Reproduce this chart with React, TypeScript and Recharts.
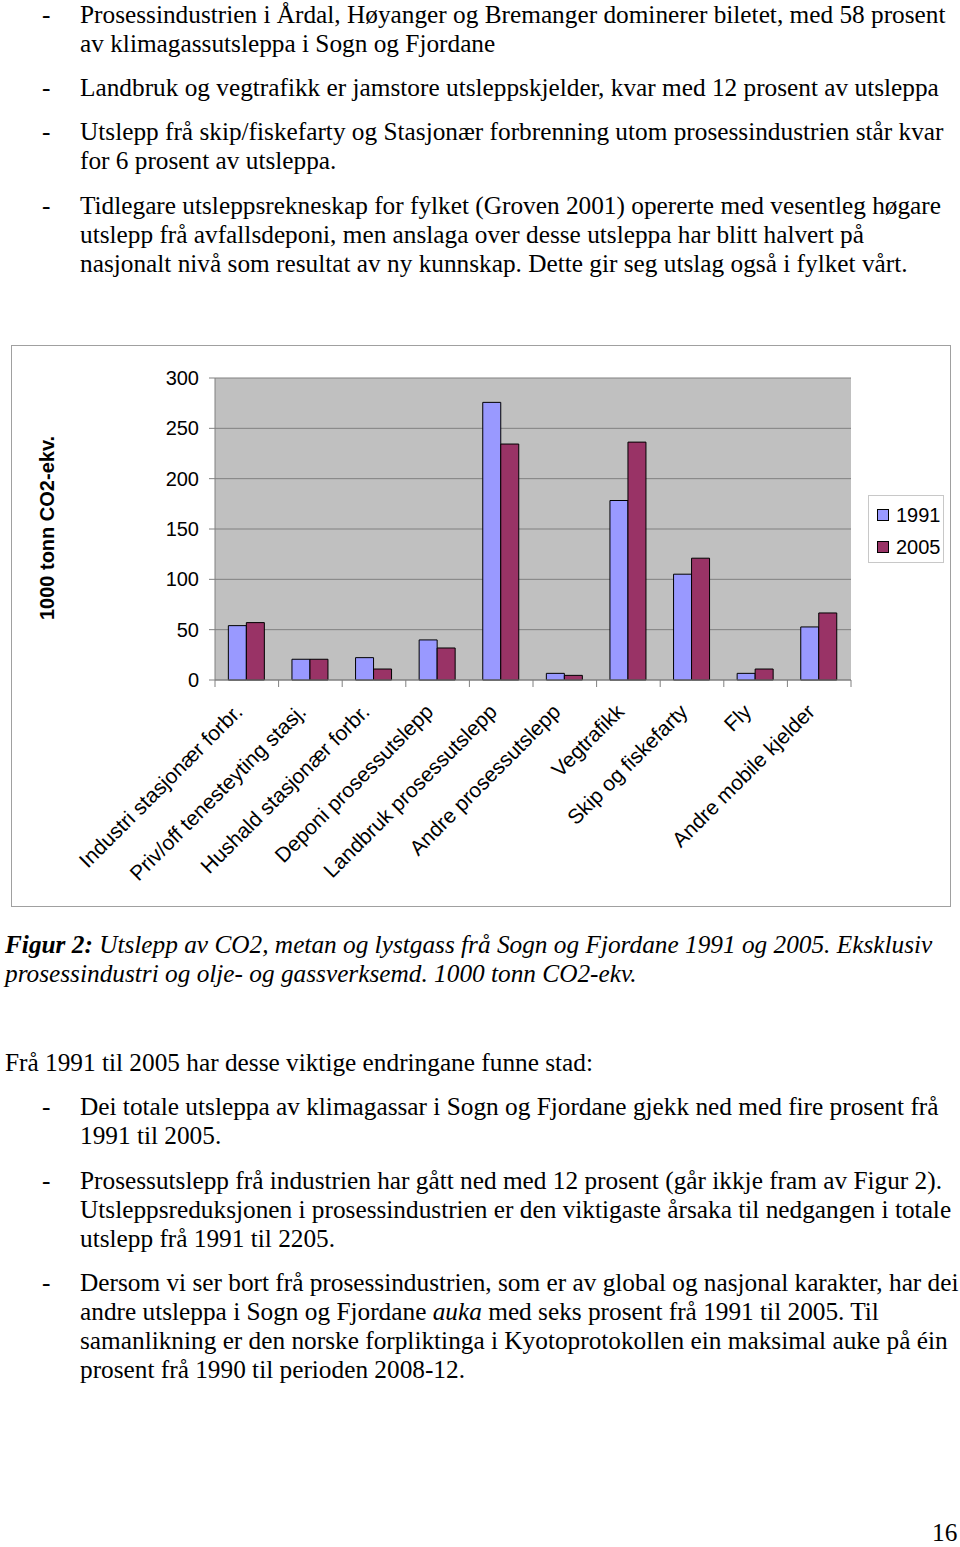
import React from 'react';
import { Bar, BarChart, CartesianGrid, Label, Legend, XAxis, YAxis } from 'recharts';

const categories = [
  'Industri stasjonær forbr.',
  'Priv/off tenesteyting stasj.',
  'Hushald stasjonær forbr.',
  'Deponi prosessutslepp',
  'Landbruk prosessutslepp',
  'Andre prosessutslepp',
  'Vegtrafikk',
  'Skip og fiskefarty',
  'Fly',
  'Andre mobile kjelder',
];

const values1991 = [54, 20.6, 22.2, 39.8, 275.8, 6.6, 178.3, 105.1, 6.6, 52.7];
const values2005 = [57, 20.6, 10.9, 31.8, 234.4, 4.6, 236.3, 121, 10.9, 66.6];

const yTicks = [0, 50, 100, 150, 200, 250, 300];

const data = categories.map((name, i) => ({
  name,
  y1991: values1991[i],
  y2005: values2005[i],
}));

const serif = '"Liberation Serif", "Times New Roman", serif';
const sans = '"Liberation Sans", Arial, sans-serif';

const PLOT_W = 636;
const BAND = PLOT_W / categories.length;

function CategoryTick(props: any) {
  const { x, y, payload, index } = props;
  const tx = x - 3;
  const ty = y + 33;
  return (
    <g>
      {index === 0 && <line x1={x - BAND / 2} y1={y} x2={x - BAND / 2} y2={y + 7} stroke='#808080' />}
      <line x1={x + BAND / 2} y1={y} x2={x + BAND / 2} y2={y + 7} stroke='#808080' />
      <text
        x={tx}
        y={ty}
        transform={`rotate(-45, ${tx}, ${ty})`}
        textAnchor='end'
        fontSize={21}
        fontFamily={sans}
        fill='#000'
      >
        {payload.value}
      </text>
    </g>
  );
}

function LegendBox(props: any) {
  const items = props.payload || [];
  return (
    <div
      style={{
        width: 76,
        height: 68,
        boxSizing: 'border-box',
        border: '1px solid #c8c8c8',
        background: '#fff',
        paddingTop: 3,
      }}
    >
      {items.map((entry: any) => (
        <div key={entry.value} style={{ display: 'flex', alignItems: 'center', height: 32, paddingLeft: 8 }}>
          <span
            style={{
              display: 'inline-block',
              width: 10,
              height: 10,
              background: entry.color,
              border: '1px solid #000',
              marginRight: 7,
            }}
          />
          <span style={{ fontFamily: sans, fontSize: 20, color: '#000' }}>{entry.value}</span>
        </div>
      ))}
    </div>
  );
}

function Line({ top, left = 80, children }: { top: number; left?: number; children: React.ReactNode }) {
  return (
    <div
      style={{
        position: 'absolute',
        top,
        left,
        whiteSpace: 'nowrap',
        fontFamily: serif,
        fontSize: 25.3,
        lineHeight: '29px',
        color: '#000',
      }}
    >
      {children}
    </div>
  );
}

function Dash({ top }: { top: number }) {
  return <Line top={top} left={42}>-</Line>;
}

export default function App() {
  return (
    <div style={{ position: 'absolute', left: 0, top: 0, width: 960, height: 1547, background: '#fff', overflow: 'hidden' }}>
      <Dash top={0} />
      <Line top={0}>Prosessindustrien i Årdal, Høyanger og Bremanger dominerer biletet, med 58 prosent</Line>
      <Line top={29}>av klimagassutsleppa i Sogn og Fjordane</Line>
      <Dash top={73} />
      <Line top={73}>Landbruk og vegtrafikk er jamstore utsleppskjelder, kvar med 12 prosent av utsleppa</Line>
      <Dash top={117} />
      <Line top={117}>Utslepp frå skip/fiskefarty og Stasjonær forbrenning utom prosessindustrien står kvar</Line>
      <Line top={146}>for 6 prosent av utsleppa.</Line>
      <Dash top={191} />
      <Line top={191}>Tidlegare utsleppsrekneskap for fylket (Groven 2001) opererte med vesentleg høgare</Line>
      <Line top={220}>utslepp frå avfallsdeponi, men anslaga over desse utsleppa har blitt halvert på</Line>
      <Line top={249}>nasjonalt nivå som resultat av ny kunnskap. Dette gir seg utslag også i fylket vårt.</Line>

      <div
        style={{
          position: 'absolute',
          left: 11,
          top: 345,
          width: 940,
          height: 562,
          boxSizing: 'border-box',
          border: '1px solid #a0a0a0',
        }}
      >
        <BarChart
          width={938}
          height={560}
          data={data}
          margin={{ top: 32, right: 99, bottom: 0, left: 0 }}
          barCategoryGap='21%'
          barGap={0}
        >
          <CartesianGrid vertical={false} stroke='#808080' fill='#c0c0c0' fillOpacity={1} />
          <XAxis
            dataKey='name'
            interval={0}
            height={226}
            tickSize={0}
            tickMargin={0}
            axisLine={{ stroke: '#808080' }}
            tick={<CategoryTick />}
          />
          <YAxis
            width={203}
            domain={[0, 300]}
            ticks={yTicks}
            interval={0}
            tickSize={6}
            tickMargin={10}
            axisLine={{ stroke: '#808080' }}
            tickLine={{ stroke: '#808080' }}
            tick={{ fill: '#000', fontSize: 20, fontFamily: sans }}
          >
            <Label
              content={() => (
                <text
                  x={35}
                  y={182}
                  transform='rotate(-90, 35, 182)'
                  textAnchor='middle'
                  dominantBaseline='central'
                  fontWeight='bold'
                  fontSize={20}
                  fontFamily={sans}
                  fill='#000'
                >
                  1000 tonn CO2-ekv.
                </text>
              )}
            />
          </YAxis>
          <YAxis
            yAxisId='r'
            orientation='right'
            width={0}
            domain={[0, 300]}
            tick={false}
            tickLine={false}
            axisLine={{ stroke: '#808080' }}
          />
          <Legend
            layout='vertical'
            align='center'
            verticalAlign='middle'
            content={<LegendBox />}
            wrapperStyle={{ position: 'absolute', left: 856, top: 149, width: 76, height: 68 }}
          />
          <Bar dataKey='y1991' name='1991' fill='#9999ff' stroke='#000' strokeWidth={1} isAnimationActive={false} />
          <Bar dataKey='y2005' name='2005' fill='#993366' stroke='#000' strokeWidth={1} isAnimationActive={false} />
        </BarChart>
      </div>

      <Line top={930} left={5}>
        <i>
          <b>Figur 2:</b> Utslepp av CO2, metan og lystgass frå Sogn og Fjordane 1991 og 2005. Eksklusiv
        </i>
      </Line>
      <Line top={959} left={5}>
        <i>prosessindustri og olje- og gassverksemd. 1000 tonn CO2-ekv.</i>
      </Line>

      <Line top={1048} left={5}>Frå 1991 til 2005 har desse viktige endringane funne stad:</Line>

      <Dash top={1092} />
      <Line top={1092}>Dei totale utsleppa av klimagassar i Sogn og Fjordane gjekk ned med fire prosent frå</Line>
      <Line top={1121}>1991 til 2005.</Line>
      <Dash top={1166} />
      <Line top={1166}>Prosessutslepp frå industrien har gått ned med 12 prosent (går ikkje fram av Figur 2).</Line>
      <Line top={1195}>Utsleppsreduksjonen i prosessindustrien er den viktigaste årsaka til nedgangen i totale</Line>
      <Line top={1224}>utslepp frå 1991 til 2205.</Line>
      <Dash top={1268} />
      <Line top={1268}>Dersom vi ser bort frå prosessindustrien, som er av global og nasjonal karakter, har dei</Line>
      <Line top={1297}>
        andre utsleppa i Sogn og Fjordane <i>auka</i> med seks prosent frå 1991 til 2005. Til
      </Line>
      <Line top={1326}>samanlikning er den norske forpliktinga i Kyotoprotokollen ein maksimal auke på éin</Line>
      <Line top={1355}>prosent frå 1990 til perioden 2008-12.</Line>

      <Line top={1518} left={932}>16</Line>
    </div>
  );
}
